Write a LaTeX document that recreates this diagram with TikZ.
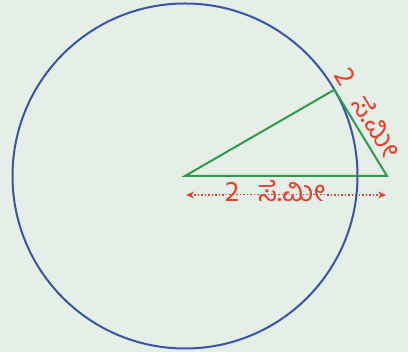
\documentclass[tikz,border=0pt]{standalone}
\usepackage{fontspec}
\newfontfamily\kannadafont[Script=Kannada]{Hind Mysuru}
\usetikzlibrary{arrows.meta,calc}
\definecolor{bgcol}{HTML}{E6EEE8}
\definecolor{circblue}{HTML}{3B55A5}
\definecolor{trigreen}{HTML}{2E9A4C}
\definecolor{lblred}{HTML}{E8412B}

\begin{document}
\begin{tikzpicture}[x=1pt,y=1pt,
  lbl/.style={text=lblred,font=\kannadafont\fontsize{29}{33}\selectfont,inner sep=1pt}]
\useasboundingbox[fill=bgcol] (0,0) rectangle (408,352);
% measure
\coordinate (L) at (186,157);
\coordinate (R) at (386,157);
\draw[lblred,line width=1.5pt,dotted,{Stealth[length=8pt,width=7pt]}-{Stealth[length=8pt,width=7pt]}] (L) -- (R);
\node[lbl,fill=bgcol,text height=0.6em,text depth=0.05em,anchor=base] (baselbl) at (275,150) {2\hspace{0.65em}ಸೆ.ಮೀ};
% circle and triangle
\coordinate (O) at (185,176);
\draw[circblue,line width=2pt] (O) circle [radius=172.5pt];
\coordinate (A) at ($(O)+(30:172.5pt)$);
\coordinate (B) at (387,176);
\draw[trigreen,line width=2pt] (O) -- (A) -- (B) -- cycle;
\node[lbl,rotate=-58.6,anchor=base west] (sidelbl) at (333,278) {2\hspace{0.65em}ಸೆ.ಮೀ};
\end{tikzpicture}
\end{document}
